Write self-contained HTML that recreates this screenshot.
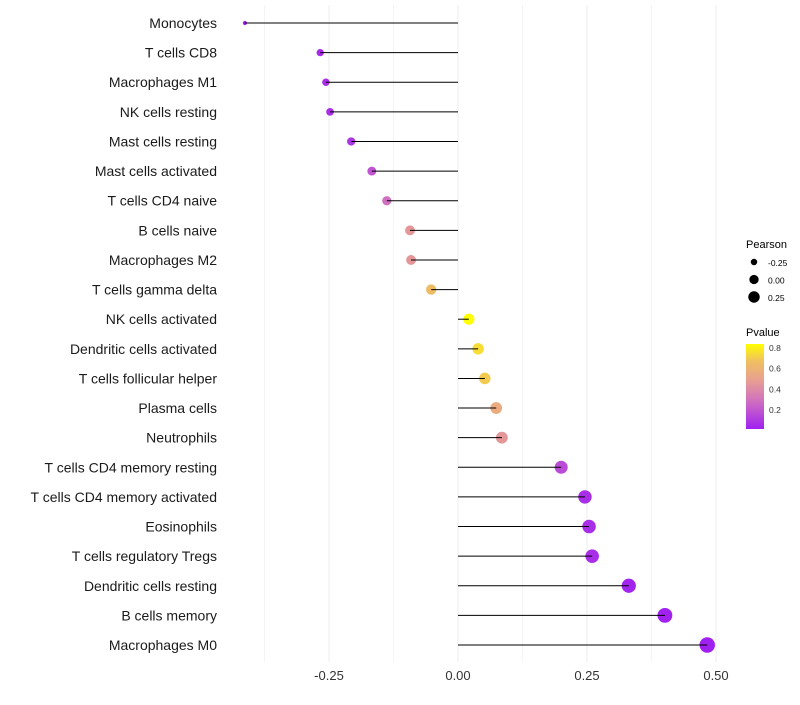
<!DOCTYPE html>
<html><head><meta charset="utf-8"><style>
body{margin:0;background:#fff;}
svg{font-family:"Liberation Sans",sans-serif;}
</style></head><body>
<svg id="chart" width="800" height="700">
<defs><linearGradient id="pg" x1="0" y1="1" x2="0" y2="0">
<stop offset="0" stop-color="#A020F0"/><stop offset="0.33" stop-color="#D070C0"/><stop offset="0.58" stop-color="#E8A090"/><stop offset="0.8" stop-color="#F0C060"/><stop offset="1" stop-color="#FFFF00"/></linearGradient></defs>
<g id="grid"></g><g id="marks"></g><g id="labels"></g><g id="legend"></g>
</svg>
<script>
const categories=["Monocytes","T cells CD8","Macrophages M1","NK cells resting","Mast cells resting","Mast cells activated","T cells CD4 naive","B cells naive","Macrophages M2","T cells gamma delta","NK cells activated","Dendritic cells activated","T cells follicular helper","Plasma cells","Neutrophils","T cells CD4 memory resting","T cells CD4 memory activated","Eosinophils","T cells regulatory  Tregs ","Dendritic cells resting","B cells memory","Macrophages M0"];
const pearson=[-0.413,-0.267,-0.256,-0.248,-0.207,-0.167,-0.138,-0.093,-0.091,-0.052,0.021,0.039,0.052,0.074,0.085,0.200,0.246,0.254,0.260,0.331,0.401,0.483];
const pvalue=[0.005,0.04,0.05,0.05,0.08,0.18,0.28,0.45,0.45,0.65,0.84,0.75,0.7,0.55,0.45,0.15,0.05,0.05,0.05,0.02,0.01,0.003];
const xTicks=[-0.25,0,0.25,0.5];
const xTickLabels=["-0.25","0.00","0.25","0.50"];
const NS="http://www.w3.org/2000/svg";
const x=v=>458+v*516;
const y=i=>23+i*29.62;
const r=v=>Math.sqrt(Math.max(2,30+62*v));
const stops=[[0,[160,32,240]],[0.33,[208,112,192]],[0.58,[232,160,144]],[0.8,[240,192,96]],[1,[255,255,0]]];
function col(p){let t=Math.max(0,Math.min(1,(p-0.003)/(0.84-0.003)));for(let k=1;k<stops.length;k++){if(t<=stops[k][0]){const a=stops[k-1],b=stops[k],f=(t-a[0])/(b[0]-a[0]);return "rgb("+a[1].map((c,j)=>Math.round(c+(b[1][j]-c)*f)).join(",")+")";}}return "rgb(255,255,0)";}
function mk(t,at,par){const e=document.createElementNS(NS,t);for(const k in at)e.setAttribute(k,at[k]);document.getElementById(par).appendChild(e);return e;}
for(let v=-0.375;v<=0.5;v+=0.125){const g=mk("line",{x1:x(v),x2:x(v),y1:5,y2:662,stroke:"#ededed","stroke-width":Math.abs((v*8)%2)>0.5?0.6:1},"grid");

}
xTicks.forEach((v,i)=>{const t=mk("text",{x:x(v),y:680,"text-anchor":"middle","font-size":13,fill:"#333"},"labels");t.textContent=xTickLabels[i];

});
categories.forEach((c,i)=>{
const p=mk("circle",{cx:x(pearson[i]),cy:y(i),r:r(pearson[i]),fill:col(pvalue[i])},"marks");


const l=mk("line",{x1:x(0),x2:x(pearson[i]),y1:y(i),y2:y(i),stroke:"#000","stroke-width":1},"marks");


const t=mk("text",{x:217,y:y(i)+5,"text-anchor":"end","font-size":14,fill:"#1a1a1a"},"labels");t.textContent=c;

});
const lt=mk("text",{x:746,y:248,"font-size":11},"legend");lt.textContent="Pearson";


[-0.25,0,0.25].forEach((v,i)=>{const c=mk("circle",{cx:754,cy:262+i*17.5,r:r(v)*0.85,fill:"#000"},"legend");


const t=mk("text",{x:768,y:266+i*17.5,"font-size":8.5},"legend");t.textContent=["-0.25","0.00","0.25"][i];

});
const pt=mk("text",{x:746,y:336,"font-size":11},"legend");pt.textContent="Pvalue";


const cb=mk("rect",{x:746,y:344,width:18,height:85,fill:"url(#pg)"},"legend");


[0.8,0.6,0.4,0.2].forEach((v,i)=>{const t=mk("text",{x:769,y:351+i*20.7,"font-size":8.5,fill:"#333"},"legend");t.textContent=v.toFixed(1);

});
</script>
</body></html>
